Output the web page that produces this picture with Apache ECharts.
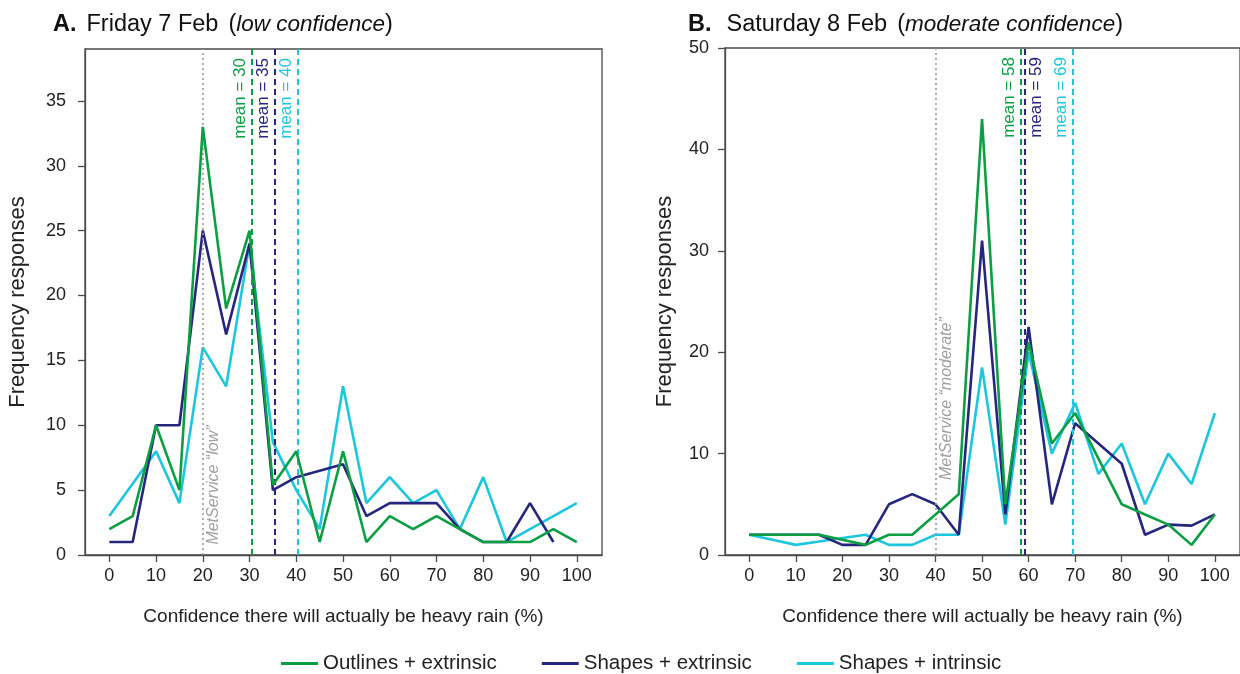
<!DOCTYPE html>
<html><head><meta charset="utf-8">
<script src="https://cdn.jsdelivr.net/npm/echarts@6/dist/echarts.min.js"></script>
<style>html,body{margin:0;padding:0;background:#fff}#c{width:1240px;height:674px}</style>
</head><body><div id="c"></div>
<script>
// ---------- DATA ----------
const confidence = [0,5,10,15,20,25,30,35,40,45,50,55,60,65,70,75,80,85,90,95,100];
const seriesNames = ['Outlines + extrinsic','Shapes + extrinsic','Shapes + intrinsic'];

// Panel A: Friday 7 Feb (low confidence)
const outlinesExtA = [2,3,10,5,33,19,25,5.4,8,1,8,1,3,2,3,2,1,1,1,2,1];
const shapesExtA   = [1,1,10,10,25,17,24,5,6,6.5,7,3,4,4,4,2,1,1,4,1,null];
const shapesIntA   = [3,5.5,8,4,16,13,24,8.7,5,2,13,4,6,4,5,2,6,1,2,3,4];
const meansA = [30.4,35.3,40.3];
const metServiceA = 20;

// Panel B: Saturday 8 Feb (moderate confidence)
const outlinesExtB = [2,2,2,2,1.5,1,2,2,4,6,43,5,21,11,14,9.5,5,4,3,1,4];
const shapesExtB   = [2,2,2,2,1,1,5,6,5,2,31,4,22.5,5,13,11,9,2,3,2.9,4];
const shapesIntB   = [2,1.5,1,1.33,1.67,2,1,1,2,2,18.5,3,20,10,15,8,11,5,10,7,14];
const meansB = [58.3,59.2,69.4];
const metServiceB = 40;

const xTicks = [0,10,20,30,40,50,60,70,80,90,100];
const yTicksA = [0,5,10,15,20,25,30,35];
const yTicksB = [0,10,20,30,40,50];

// ---------- STYLE ----------
const FONT = '"Liberation Sans", Arial, Helvetica, sans-serif';
const COLORS = ['#0b9e43','#27267f','#1cc6dc'];
const AXIS = '#4a4a4a';
const TXT = '#222';

const chart = echarts.init(document.getElementById('c'));

function pairs(vals){ return confidence.map((c,i)=>[c, vals[i]]).filter(p=>p[1]!=null); }

function xAxisCfg(gi){
  return {type:'value', gridIndex:gi, min:-5.2, max:105.4,
    name:'Confidence there will actually be heavy rain (%)', nameLocation:'middle', nameGap:52,
    nameTextStyle:{fontSize:19,color:TXT,fontFamily:FONT},
    axisLine:{show:true,onZero:false,lineStyle:{color:AXIS,width:1.3}},
    axisTick:{show:true,customValues:xTicks,length:7,lineStyle:{color:AXIS,width:1.3}},
    axisLabel:{customValues:xTicks,fontSize:18,color:TXT,margin:12,fontFamily:FONT},
    splitLine:{show:false}};
}
function yAxisCfg(gi,max,ticks,gap,lm){
  return {type:'value', gridIndex:gi, min:0, max:max,
    name:'Frequency responses', nameLocation:'middle', nameGap:gap,
    nameTextStyle:{fontSize:22,color:TXT,fontFamily:FONT},
    axisLine:{show:true,onZero:false,lineStyle:{color:AXIS,width:1.3}},
    axisTick:{show:true,customValues:ticks,length:7,lineStyle:{color:AXIS,width:1.3}},
    axisLabel:{customValues:ticks,fontSize:18,color:TXT,margin:lm,fontFamily:FONT},
    splitLine:{show:false}};
}

function panelSeries(gi, arrs, means, ms){
  return arrs.map((vals,k)=>{
    const mlData = [{xAxis:means[k], lineStyle:{color:COLORS[k],type:[6,4],width:2}}];
    if(k===0) mlData.push({xAxis:ms, lineStyle:{color:'#9a9a9a',type:[2,3],width:1.6}});
    return {
      type:'line', name:seriesNames[k], xAxisIndex:gi, yAxisIndex:gi,
      data:pairs(vals), showSymbol:false, symbol:'none', z:5-k,
      lineStyle:{color:COLORS[k],width:2.6}, itemStyle:{color:COLORS[k]},
      markLine:{silent:true, symbol:['none','none'], label:{show:false}, data:mlData}
    };
  });
}

const richTitle = {
  b:{fontSize:23.5,fontWeight:'bold',color:'#111',fontFamily:FONT,padding:[0,5,0,0]},
  n:{fontSize:23.5,fontWeight:'normal',color:'#111',fontFamily:FONT},
  i:{fontSize:22.5,fontWeight:'normal',fontStyle:'italic',color:'#111',fontFamily:FONT}
};

chart.setOption({
  animation:false,
  backgroundColor:'#fff',
  title:[
    {left:48, top:8, text:'{b|A.} {n|Friday 7 Feb}  {n|(}{i|low confidence}{n|)}', textStyle:{fontWeight:'normal',rich:richTitle}},
    {left:683, top:8, text:'{b|B.}  {n|Saturday 8 Feb}  {n|(}{i|moderate confidence}{n|)}', textStyle:{fontWeight:'normal',rich:richTitle}}
  ],
  legend:{top:648, left:276, itemWidth:37, itemHeight:3, itemGap:45, itemTextGap:3, icon:'rect',
    textStyle:{fontSize:20.5,color:TXT,fontFamily:FONT}, data:seriesNames},
  grid:[
    {left:85, top:49, width:517, bottom:119, show:true, borderColor:AXIS, borderWidth:1.3, containLabel:false},
    {left:725, top:48, right:-3, bottom:119, show:true, borderColor:AXIS, borderWidth:1.3, containLabel:false}
  ],
  xAxis:[xAxisCfg(0), xAxisCfg(1)],
  yAxis:[yAxisCfg(0,39,yTicksA,56,19), yAxisCfg(1,50,yTicksB,49,16)],
  series:[
    ...panelSeries(0,[outlinesExtA,shapesExtA,shapesIntA],meansA,metServiceA),
    ...panelSeries(1,[outlinesExtB,shapesExtB,shapesIntB],meansB,metServiceB)
  ]
});

// ---------- annotation labels placed via the axes ----------
const panels = [
  {gi:0, ymax:39, means:meansA, sides:['left','left','left'], ms:metServiceA, msText:'MetService “low”', msBase:0.8},
  {gi:1, ymax:50, means:meansB, sides:['left','right','left'], ms:metServiceB, msText:'MetService “moderate”', msBase:7.4}
];
const graphics = [];
panels.forEach(p=>{
  p.means.forEach((m,k)=>{
    const pt = chart.convertToPixel({gridIndex:p.gi},[m,p.ymax]);
    const left = p.sides[k]==='left';
    graphics.push({type:'text', x: pt[0] + (left?-3:3), y: pt[1]+9, rotation:Math.PI/2, z:10,
      style:{text:'mean = '+Math.round(m), fill:COLORS[k], fontSize:17, fontFamily:FONT,
        align:'right', verticalAlign: left?'bottom':'top'}});
  });
  const q = chart.convertToPixel({gridIndex:p.gi},[p.ms,p.msBase]);
  graphics.push({type:'text', x:q[0]+3, y:q[1], rotation:Math.PI/2, z:10,
    style:{text:p.msText, fill:'#a0a0a0', fontSize:16, fontStyle:'italic', fontFamily:FONT,
      align:'left', verticalAlign:'top'}});
});
chart.setOption({graphic:graphics});
</script>
</body></html>
